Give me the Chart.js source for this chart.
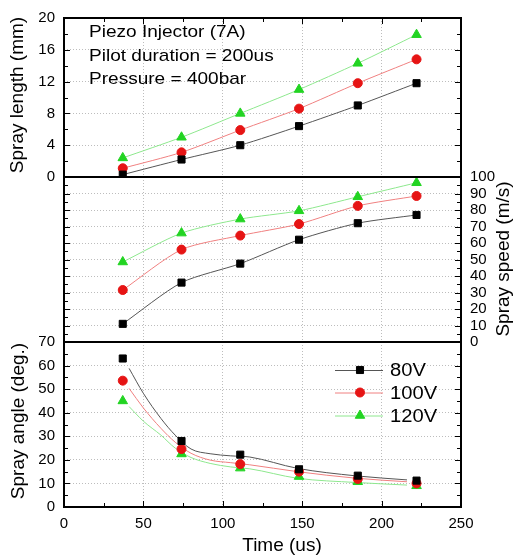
<!DOCTYPE html>
<html>
<head>
<meta charset="utf-8">
<script src="https://cdn.jsdelivr.net/npm/chart.js@4.4.1/dist/chart.umd.min.js"></script>
<style>
  html, body { margin: 0; padding: 0; background: #fff; }
  #wrap { position: relative; width: 513px; height: 556px; }
  #wrap canvas { position: absolute; left: 0; top: 0; }
</style>
</head>
<body>
<div id="wrap">
  <canvas id="cLength" width="513" height="556"></canvas>
  <canvas id="cSpeed" width="513" height="556"></canvas>
  <canvas id="cAngle" width="513" height="556"></canvas>
</div>
<script>
// piezo injector (7A) - spray length / speed / angle vs time
const timeUs = [37, 74, 111, 148, 185, 222];
const voltageLabels = ['80V', '100V', '120V'];

const length80 = [0.3, 2.2, 4.0, 6.4, 9.0, 11.8];
const length100 = [1.1, 3.1, 5.9, 8.6, 11.8, 14.8];
const length120 = [2.4, 5.0, 8.0, 11.0, 14.3, 17.9];

const speed80 = [11, 36, 47.5, 62, 72, 77];
const speed100 = [31.5, 56, 64.5, 71.5, 82.5, 88.5];
const speed120 = [48.5, 66, 74.5, 79.5, 88, 96.5];

const angle80 = [63, 28, 22.2, 16, 13.3, 11.2];
const angle100 = [53.6, 24.6, 18.2, 15, 11.9, 10];
const angle120 = [45, 22.5, 16.5, 12.9, 10.7, 9];

// fitted curves in the angle panel
const fitTimeUs = [41, 50, 61, 70, 80, 92, 105, 117, 147, 184, 216];
const angleFit80 = [58.8, 48.2, 37.6, 30.5, 24.6, 22.6, 21.7, 21.2, 16.4, 13.2, 11.5];
const angleFit100 = [50.3, 42.0, 33.4, 27.5, 22.8, 19.9, 18.8, 17.9, 15.0, 12.2, 10.7];
const angleFit120 = [42.6, 36.4, 30.5, 25.0, 21.0, 18.5, 17.0, 16.2, 12.2, 10.4, 9.3];

const xTickValues = [0, 50, 100, 150, 200, 250];
const lengthTickValues = [0, 4, 8, 12, 16, 20];
const speedTickValues = [0, 10, 20, 30, 40, 50, 60, 70, 80, 90, 100];
const angleTickValues = [0, 10, 20, 30, 40, 50, 60, 70];

const infoLines = ['Piezo Injector (7A)', 'Pilot duration = 200us', 'Pressure = 400bar'];

const FONT = "'Liberation Sans', Arial, Helvetica, sans-serif";
Chart.defaults.font.family = FONT;
Chart.defaults.color = '#000';

const styles = [
  { marker: '#000000', line: '#555555', pointStyle: 'rect', radius: 5 },
  { marker: '#e61414', line: '#f08080', pointStyle: 'circle', radius: 4.5 },
  { marker: '#22d422', line: '#8ee88e', pointStyle: 'triangle', radius: 5.5 },
];

function pts(xs, ys) {
  return xs.map((x, i) => ({ x, y: ys[i] }));
}

function seriesSet(arrays, withLine) {
  return arrays.map((arr, i) => ({
    label: voltageLabels[i],
    data: pts(timeUs, arr),
    showLine: withLine,
    borderColor: styles[i].line,
    borderWidth: 1,
    tension: 0.25,
    pointStyle: styles[i].pointStyle,
    pointRadius: styles[i].radius,
    pointBackgroundColor: styles[i].marker,
    pointBorderColor: styles[i].marker,
    pointBorderWidth: 1,
  }));
}

function fitSet(arrays) {
  return arrays.map((arr, i) => ({
    label: voltageLabels[i] + ' fit',
    data: pts(fitTimeUs, arr),
    borderColor: styles[i].line,
    borderWidth: 1,
    cubicInterpolationMode: 'monotone',
    pointRadius: 0,
  }));
}

const dotted = { color: '#bdbdbd', lineWidth: 1, drawTicks: false };
const noBorder = { display: false, dash: [1, 2] };

function fixedTicks(values) {
  return (scale) => { scale.ticks = values.map((v) => ({ value: v })); };
}

function xScale(showLabels) {
  return {
    type: 'linear', min: 0, max: 250,
    afterBuildTicks: fixedTicks(xTickValues),
    grid: dotted, border: noBorder,
    ticks: { display: showLabels, autoSkip: false, maxRotation: 0, font: { size: 15 }, padding: 8 },
    afterFit: (s) => { s.height = showLabels ? 49 : 0; },
  };
}

function yScale(min, max, values, position, width) {
  return {
    position, min, max,
    afterBuildTicks: fixedTicks(values),
    grid: dotted, border: noBorder,
    ticks: { autoSkip: false, font: { size: 15 }, padding: 9 },
    afterFit: (s) => { s.width = width; },
  };
}

function text(ctx, str, x, y, size, opt = {}) {
  ctx.save();
  ctx.translate(x, y);
  if (opt.rotate) ctx.rotate(opt.rotate);
  ctx.scale(opt.sx || 1, 1);
  ctx.font = `${size}px ${FONT}`;
  ctx.fillStyle = '#000';
  ctx.textAlign = opt.align || 'left';
  ctx.textBaseline = opt.baseline || 'alphabetic';
  ctx.fillText(str, 0, 0);
  ctx.restore();
}

// frame + inward ticks
function framePlugin(cfg) {
  return {
    id: 'frame',
    afterDraw(chart) {
      const { ctx, chartArea: a } = chart;
      const ys = chart.scales.y;
      const xs = chart.scales.x;
      ctx.save();
      ctx.strokeStyle = '#000';
      ctx.lineWidth = 1;
      ctx.beginPath();
      for (let v = ys.min + cfg.yMinor; v < ys.max; v += cfg.yMinor) {
        const py = Math.round(ys.getPixelForValue(v)) + 0.5;
        const len = v % cfg.yMajor === 0 ? 6 : 4;
        ctx.moveTo(a.left, py); ctx.lineTo(a.left + len, py);
        ctx.moveTo(a.right, py); ctx.lineTo(a.right - len, py);
      }
      (cfg.xSides || []).forEach((side) => {
        for (let v = 25; v < 250; v += 25) {
          const px = Math.round(xs.getPixelForValue(v)) + 0.5;
          const len = v % 50 === 0 ? 6 : 4;
          if (side === 'top') { ctx.moveTo(px, a.top); ctx.lineTo(px, a.top + len); }
          else { ctx.moveTo(px, a.bottom); ctx.lineTo(px, a.bottom - len); }
        }
      });
      ctx.stroke();
      ctx.lineWidth = 2;
      ctx.strokeRect(a.left, a.top, a.right - a.left, a.bottom - a.top);
      ctx.restore();
      if (cfg.extra) cfg.extra(chart);
    },
  };
}

const common = {
  type: 'line',
  options: {
    responsive: false,
    devicePixelRatio: 1,
    animation: false,
    events: [],
    plugins: { legend: { display: false }, tooltip: { enabled: false } },
  },
};

function makeChart(id, datasets, layoutPadding, scales, plugin) {
  return new Chart(document.getElementById(id), {
    type: 'line',
    data: { datasets },
    options: { ...common.options, layout: { padding: layoutPadding }, scales },
    plugins: [plugin],
  });
}

// top panel: spray length
makeChart('cLength',
  seriesSet([length80, length100, length120], true),
  { top: 14, bottom: 379, left: 0, right: 52 },
  { x: xScale(false), y: yScale(0, 20, lengthTickValues, 'left', 64) },
  framePlugin({
    yMinor: 2, yMajor: 4, xSides: ['top'],
    extra(chart) {
      const ctx = chart.ctx;
      infoLines.forEach((s, i) => text(ctx, s, 89, 37 + i * 23.7, 17, { sx: 1.12 }));
      text(ctx, 'Spray length (mm)', 23, 95, 19, { rotate: -Math.PI / 2, align: 'center' });
    },
  })
);

// middle panel: spray speed
makeChart('cSpeed',
  seriesSet([speed80, speed100, speed120], true),
  { top: 177, bottom: 214, left: 64, right: 0 },
  { x: xScale(false), y: yScale(0, 100, speedTickValues, 'right', 52) },
  framePlugin({
    yMinor: 5, yMajor: 10,
    extra(chart) {
      text(chart.ctx, 'Spray speed (m/s)', 509, 259, 19, { rotate: -Math.PI / 2, align: 'center' });
    },
  })
);

// bottom panel: spray angle
makeChart('cAngle',
  [...seriesSet([angle80, angle100, angle120], false), ...fitSet([angleFit80, angleFit100, angleFit120])],
  { top: 342, bottom: 0, left: 0, right: 52 },
  { x: xScale(true), y: yScale(0, 70, angleTickValues, 'left', 64) },
  framePlugin({
    yMinor: 5, yMajor: 10, xSides: ['bottom'],
    extra(chart) {
      const ctx = chart.ctx;
      text(ctx, 'Spray angle (deg.)', 24, 421, 19, { rotate: -Math.PI / 2, align: 'center' });
      text(ctx, 'Time (us)', 282, 551, 19, { align: 'center' });
      // legend
      const rows = [370, 392.5, 415.5];
      voltageLabels.forEach((lab, i) => {
        const y = rows[i];
        ctx.save();
        ctx.strokeStyle = styles[i].line;
        ctx.lineWidth = 1;
        ctx.beginPath();
        ctx.moveTo(335, y + 0.5); ctx.lineTo(383, y + 0.5);
        ctx.stroke();
        ctx.fillStyle = styles[i].marker;
        ctx.strokeStyle = styles[i].marker;
        Chart.helpers.drawPoint(ctx, { pointStyle: styles[i].pointStyle, radius: styles[i].radius, rotation: 0, borderWidth: 1 }, 360, y);
        ctx.restore();
        text(ctx, lab, 390, y + 6, 18, { sx: 1.12 });
      });
    },
  })
);
</script>
</body>
</html>
